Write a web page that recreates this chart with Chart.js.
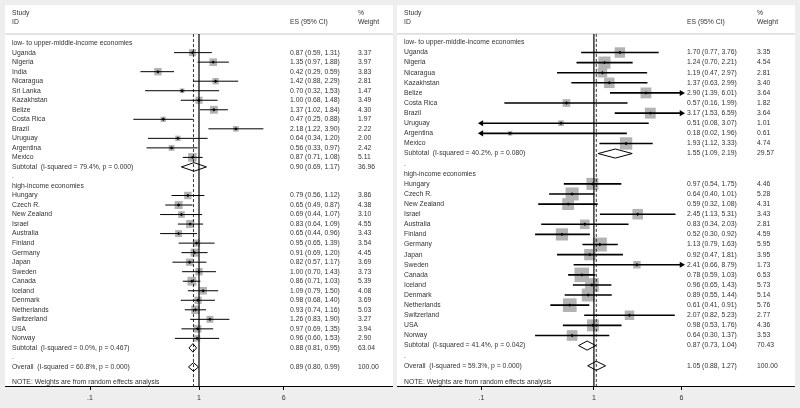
<!DOCTYPE html>
<html>
<head>
<meta charset="utf-8">
<script src="https://cdn.jsdelivr.net/npm/chart.js@4.4.1/dist/chart.umd.min.js"></script>
<style>
  body { margin: 0; background: #eeeeee; width: 800px; height: 408px; overflow: hidden; position: relative; }
  .panel { position: absolute; top: 5px; height: 403px; }
  #leftWrap { left: 5px; width: 388px; }
  #rightWrap { left: 397px; width: 398px; }
</style>
</head>
<body>
<div class="panel" id="leftWrap"><canvas id="leftChart"></canvas></div>
<div class="panel" id="rightWrap"><canvas id="rightChart"></canvas></div>
<script>
// --- data: left panel ---
const groupTitles = ['low- to upper-middle-income economies', 'high-income economies'];

const leftStudies = ['Uganda', 'Nigeria', 'India', 'Nicaragua', 'Sri Lanka', 'Kazakhstan', 'Belize', 'Costa Rica', 'Brazil', 'Uruguay', 'Argentina', 'Mexico',
    'Hungary', 'Czech R.', 'New Zealand', 'Israel', 'Australia', 'Finland', 'Germany', 'Japan', 'Sweden', 'Canada', 'Iceland', 'Denmark', 'Netherlands', 'Switzerland', 'USA', 'Norway'];
const leftEs = [0.87, 1.35, 0.42, 1.42, 0.70, 1.00, 1.37, 0.47, 2.18, 0.64, 0.56, 0.87,
    0.79, 0.65, 0.69, 0.83, 0.65, 0.95, 0.91, 0.82, 1.00, 0.86, 1.09, 0.98, 0.93, 1.26, 0.97, 0.96];
const leftLo = [0.59, 0.97, 0.29, 0.88, 0.32, 0.68, 1.02, 0.25, 1.22, 0.34, 0.33, 0.71,
    0.56, 0.49, 0.44, 0.64, 0.44, 0.65, 0.69, 0.57, 0.70, 0.71, 0.79, 0.68, 0.74, 0.83, 0.69, 0.60];
const leftHi = [1.31, 1.88, 0.59, 2.29, 1.53, 1.48, 1.84, 0.88, 3.90, 1.20, 0.97, 1.08,
    1.12, 0.87, 1.07, 1.09, 0.96, 1.39, 1.20, 1.17, 1.43, 1.03, 1.50, 1.40, 1.16, 1.90, 1.35, 1.53];
const leftWeight = [3.37, 3.97, 3.83, 2.81, 1.47, 3.49, 4.30, 1.97, 2.22, 2.00, 2.42, 5.11,
    3.86, 4.38, 3.10, 4.55, 3.43, 3.54, 4.45, 3.69, 3.73, 5.39, 4.08, 3.69, 5.03, 3.27, 3.94, 2.90];
const leftLowCount = 12;
const leftSubLabels = ['Subtotal  (I-squared = 79.4%, p = 0.000)', 'Subtotal  (I-squared = 0.0%, p = 0.467)', 'Overall  (I-squared = 60.8%, p = 0.000)'];
const leftSubEs = [0.90, 0.88, 0.89];
const leftSubLo = [0.69, 0.81, 0.80];
const leftSubHi = [1.17, 0.95, 0.99];
const leftSubWeight = [36.96, 63.04, 100.00];

// --- data: right panel ---
const rightStudies = ['Uganda', 'Nigeria', 'Nicaragua', 'Kazakhstan', 'Belize', 'Costa Rica', 'Brazil', 'Uruguay', 'Argentina', 'Mexico',
    'Hungary', 'Czech R.', 'New Zealand', 'Israel', 'Australia', 'Finland', 'Germany', 'Japan', 'Sweden', 'Canada', 'Iceland', 'Denmark', 'Netherlands', 'Switzerland', 'USA', 'Norway'];
const rightEs = [1.70, 1.24, 1.19, 1.37, 2.90, 0.57, 3.17, 0.51, 0.18, 1.93,
    0.97, 0.64, 0.59, 2.45, 0.83, 0.52, 1.13, 0.92, 2.41, 0.78, 0.96, 0.89, 0.61, 2.07, 0.98, 0.64];
const rightLo = [0.77, 0.70, 0.47, 0.63, 1.39, 0.16, 1.53, 0.08, 0.02, 1.12,
    0.54, 0.40, 0.32, 1.13, 0.34, 0.30, 0.79, 0.47, 0.66, 0.59, 0.65, 0.55, 0.41, 0.82, 0.53, 0.30];
const rightHi = [3.76, 2.21, 2.97, 2.99, 6.01, 1.99, 6.59, 3.07, 1.96, 3.33,
    1.75, 1.01, 1.08, 5.31, 2.03, 0.92, 1.63, 1.81, 8.79, 1.03, 1.43, 1.44, 0.91, 5.23, 1.76, 1.37];
const rightWeight = [3.35, 4.54, 2.81, 3.40, 3.64, 1.82, 3.64, 1.01, 0.61, 4.74,
    4.46, 5.28, 4.31, 3.43, 2.81, 4.59, 5.95, 3.95, 1.73, 6.53, 5.73, 5.14, 5.76, 2.77, 4.36, 3.53];
const rightLowCount = 10;
const rightSubLabels = ['Subtotal  (I-squared = 40.2%, p = 0.080)', 'Subtotal  (I-squared = 41.4%, p = 0.042)', 'Overall  (I-squared = 59.3%, p = 0.000)'];
const rightSubEs = [1.55, 0.87, 1.05];
const rightSubLo = [1.09, 0.73, 0.88];
const rightSubHi = [2.19, 1.04, 1.27];
const rightSubWeight = [29.57, 70.43, 100.00];

// axis
const xTicks = [0.1, 1, 6];
const xTickLabels = ['.1', '1', '6'];
const noteText = 'NOTE: Weights are from random effects analysis';

const FONT_FAMILY = '"Liberation Sans", Arial, sans-serif';
const TEXT_COLOR = '#333';

function rowLayout(nLow, nAll) {
    const nHigh = nAll - nLow;
    const studyRows = [];
    for (let i = 0; i < nAll; i++) studyRows.push(i < nLow ? i + 1 : i + 4);
    const sub2 = nLow + 4 + nHigh;
    return {
        studyRows: studyRows,
        groupRows: [0, nLow + 3],
        dotRows: [nLow + 2, sub2 + 1],
        subRows: [nLow + 1, sub2, sub2 + 2],
        noteRow: sub2 + 3.6
    };
}

const fmt = v => v.toFixed(2);

function makeForest(canvasId, d, look) {
    const rows = rowLayout(d.lowCount, d.studies.length);

    // confidence interval lines (clipped to the shown range)
    const ciData = [];
    const arrowData = [];
    d.es.forEach((e, i) => {
        const r = rows.studyRows[i];
        ciData.push({ x: Math.max(d.lo[i], look.clipLo), y: r });
        ciData.push({ x: Math.min(d.hi[i], look.clipHi), y: r });
        ciData.push({ x: null, y: null });
        if (d.hi[i] > look.clipHi) arrowData.push({ x: look.clipHi, y: r, dir: 90 });
        if (d.lo[i] < look.clipLo) arrowData.push({ x: look.clipLo, y: r, dir: -90 });
    });

    const pointData = d.es.map((e, i) => ({ x: e, y: rows.studyRows[i] }));

    // diamonds for subtotals / overall
    const h = 0.45;
    const diamondData = [];
    d.subEs.forEach((e, i) => {
        const r = rows.subRows[i];
        diamondData.push({ x: d.subLo[i], y: r }, { x: e, y: r - h }, { x: d.subHi[i], y: r },
            { x: e, y: r + h }, { x: d.subLo[i], y: r }, { x: null, y: null });
    });

    const overallEs = d.subEs[2];

    const textPlugin = {
        id: 'forestText',
        beforeDraw(chart) {
            const { ctx, chartArea } = chart;
            ctx.save();
            ctx.fillStyle = '#ffffff';
            ctx.fillRect(chartArea.left, chartArea.top, chartArea.width, chartArea.height);
            ctx.restore();
        },
        afterDatasetsDraw(chart) {
            const { ctx, chartArea } = chart;
            const ys = chart.scales.y;
            const left = chartArea.left;
            const top = chartArea.top;
            ctx.save();
            ctx.font = '6.8px ' + FONT_FAMILY;
            ctx.fillStyle = TEXT_COLOR;
            ctx.textAlign = 'left';
            ctx.textBaseline = 'middle';

            // header
            ctx.fillText('Study', left + look.nameX, top + 8);
            ctx.fillText('ID', left + look.nameX, top + 17.5);
            ctx.fillText('ES (95% CI)', left + look.esX, top + 17.5);
            ctx.fillText('%', left + look.wX, top + 8);
            ctx.fillText('Weight', left + look.wX, top + 17.5);

            groupTitles.forEach((t, i) => ctx.fillText(t, left + look.nameX, ys.getPixelForValue(rows.groupRows[i])));
            rows.dotRows.forEach(r => ctx.fillText('.', left + look.nameX, ys.getPixelForValue(r)));

            d.studies.forEach((s, i) => {
                const y = ys.getPixelForValue(rows.studyRows[i]);
                ctx.fillText(s, left + look.nameX, y);
                ctx.fillText(fmt(d.es[i]) + ' (' + fmt(d.lo[i]) + ', ' + fmt(d.hi[i]) + ')', left + look.esX, y);
                ctx.fillText(fmt(d.weight[i]), left + look.wX, y);
            });
            d.subLabels.forEach((s, i) => {
                const y = ys.getPixelForValue(rows.subRows[i]);
                ctx.fillText(s, left + look.nameX, y);
                ctx.fillText(fmt(d.subEs[i]) + ' (' + fmt(d.subLo[i]) + ', ' + fmt(d.subHi[i]) + ')', left + look.esX, y);
                ctx.fillText(fmt(d.subWeight[i]), left + look.wX, y);
            });
            ctx.fillText(noteText, left + look.nameX, ys.getPixelForValue(rows.noteRow));
            ctx.restore();
        }
    };

    return new Chart(document.getElementById(canvasId), {
        type: 'scatter',
        data: {
            datasets: [
                {   // weight boxes
                    data: pointData,
                    pointStyle: 'rect',
                    pointRadius: ctx => Math.sqrt(d.weight[ctx.dataIndex]) * look.boxScale / Math.SQRT2,
                    backgroundColor: '#b3b3b3',
                    borderWidth: 0,
                    order: 6
                },
                {   // header rule
                    type: 'line',
                    data: [{ x: look.xMin, y: look.headerRow }, { x: look.xMax, y: look.headerRow }],
                    borderColor: '#c8c8c8', borderWidth: 1, pointRadius: 0, fill: false,
                    order: 5
                },
                {   // no effect line
                    type: 'line',
                    data: [{ x: 1, y: look.headerRow }, { x: 1, y: look.yMax }],
                    borderColor: '#000', borderWidth: 1.2, pointRadius: 0, fill: false,
                    order: 4
                },
                {   // overall effect line
                    type: 'line',
                    data: [{ x: overallEs, y: look.headerRow }, { x: overallEs, y: look.yMax }],
                    borderColor: '#000', borderWidth: 0.8, borderDash: [3, 2], pointRadius: 0, fill: false,
                    order: 4
                },
                {   // CI lines
                    type: 'line',
                    data: ciData,
                    borderColor: '#000', borderWidth: look.ciWidth, pointRadius: 0, fill: false, spanGaps: false,
                    order: 3
                },
                {   // diamonds
                    type: 'line',
                    data: diamondData,
                    borderColor: '#000', borderWidth: 1, pointRadius: 0, fill: false, spanGaps: false,
                    order: 2
                },
                {   // arrows for clipped intervals
                    data: arrowData,
                    pointStyle: 'triangle',
                    pointRadius: 3.5,
                    pointRotation: ctx => ctx.raw ? ctx.raw.dir : 0,
                    backgroundColor: '#000', borderColor: '#000', borderWidth: 0,
                    order: 1
                },
                {   // point estimates
                    data: pointData,
                    pointStyle: 'rectRot',
                    pointRadius: 1.7,
                    backgroundColor: '#000', borderWidth: 0,
                    order: 0
                }
            ]
        },
        options: {
            responsive: true,
            maintainAspectRatio: false,
            animation: false,
            layout: { padding: 0, autoPadding: false },
            plugins: { legend: { display: false }, tooltip: { enabled: false } },
            scales: {
                x: {
                    type: 'logarithmic',
                    min: look.xMin,
                    max: look.xMax,
                    afterBuildTicks: s => { s.ticks = xTicks.map(v => ({ value: v })); },
                    afterFit: s => { s.height = 22; },
                    ticks: {
                        callback: (v, i) => xTickLabels[i],
                        font: { size: 7, family: FONT_FAMILY },
                        color: TEXT_COLOR,
                        padding: 4,
                        maxRotation: 0,
                        autoSkip: false
                    },
                    grid: { drawOnChartArea: false, tickLength: 4, color: '#000' },
                    border: { color: '#000', width: 1 }
                },
                y: { type: 'linear', reverse: true, min: look.yMin, max: look.yMax, display: false }
            }
        },
        plugins: [textPlugin]
    });
}

makeForest('leftChart', {
    studies: leftStudies, es: leftEs, lo: leftLo, hi: leftHi, weight: leftWeight, lowCount: leftLowCount,
    subLabels: leftSubLabels, subEs: leftSubEs, subLo: leftSubLo, subHi: leftSubHi, subWeight: leftSubWeight
}, {
    xMin: Math.pow(10, -1.78), xMax: Math.pow(10, 1.78), yMin: -4, yMax: 36, headerRow: -0.95,
    clipLo: 0.1, clipHi: 6, boxScale: 3.8, ciWidth: 1, nameX: 7, esX: 285, wX: 353
});

makeForest('rightChart', {
    studies: rightStudies, es: rightEs, lo: rightLo, hi: rightHi, weight: rightWeight, lowCount: rightLowCount,
    subLabels: rightSubLabels, subEs: rightSubEs, subLo: rightSubLo, subHi: rightSubHi, subWeight: rightSubWeight
}, {
    xMin: Math.pow(10, -1.75), xMax: Math.pow(10, 1.787), yMin: -3.7, yMax: 34, headerRow: -0.84,
    clipLo: 0.1, clipHi: 6, boxScale: 5.7, ciWidth: 1.6, nameX: 7, esX: 290, wX: 360
});
</script>
</body>
</html>
